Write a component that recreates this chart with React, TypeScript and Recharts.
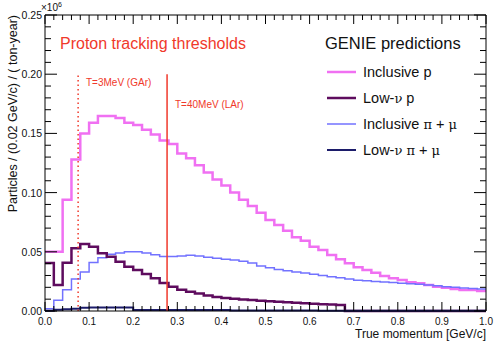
import React from 'react';
import { LineChart, Line, XAxis, YAxis, ReferenceLine } from 'recharts';

// 50 bins of 0.02 GeV/c from 0 to 1 (values in units of 10^6)
const binLowEdges: number[] = Array.from({ length: 50 }, (_, i) => i / 50);

const inclusiveP = [
  0.05, 0.05, 0.094, 0.128, 0.15, 0.159, 0.1647, 0.1647, 0.163, 0.159,
  0.157, 0.153, 0.149, 0.144, 0.141, 0.133, 0.129, 0.123, 0.117, 0.111,
  0.106, 0.1, 0.094, 0.0887, 0.083, 0.0769, 0.0726, 0.0678, 0.0622, 0.0594,
  0.0543, 0.0515, 0.0473, 0.0437, 0.0403, 0.0369, 0.0346, 0.0324, 0.0296, 0.0276,
  0.0262, 0.0242, 0.0234, 0.022, 0.0205, 0.0197, 0.0186, 0.0177, 0.0177, 0.0169,
];

const lowNuP = [
  0.0405, 0.022, 0.0408, 0.053, 0.0565, 0.0543, 0.0487, 0.0459, 0.0417, 0.0374,
  0.0346, 0.0313, 0.0276, 0.0237, 0.0205, 0.018, 0.0163, 0.0147, 0.013, 0.0119,
  0.011, 0.0103, 0.0097, 0.0092, 0.0087, 0.0082, 0.0078, 0.0074, 0.007, 0.0066,
  0.0062, 0.0058, 0.0054, 0.005, 0, 0, 0, 0, 0, 0,
  0, 0, 0, 0, 0, 0, 0, 0, 0, 0,
];

const inclusivePiMu = [
  0.002, 0.009, 0.018, 0.027, 0.033, 0.041, 0.045, 0.048, 0.049, 0.05,
  0.05, 0.049, 0.0475, 0.046, 0.046, 0.0465, 0.047, 0.0465, 0.0455, 0.0445,
  0.0437, 0.043, 0.042, 0.0405, 0.038, 0.0365, 0.035, 0.034, 0.033, 0.032,
  0.031, 0.03, 0.029, 0.028, 0.027, 0.026, 0.0256, 0.025, 0.0245, 0.024,
  0.0235, 0.023, 0.0225, 0.022, 0.0213, 0.0205, 0.02, 0.0195, 0.019, 0.0185,
];

const lowNuPiMu = [
  0.0003, 0.001, 0.0015, 0.002, 0.0028, 0.003, 0.003, 0.003, 0.003, 0.003,
  0.0009, 0.0008, 0.0008, 0.0008, 0.0008, 0.0008, 0.0008, 0.0008, 0.0008, 0.0008,
  0.0008, 0.0005, 0.0005, 0.0005, 0.0005, 0.0005, 0.0005, 0.0005, 0.0005, 0.0005,
  0.0005, 0.0003, 0.0003, 0.0003, 0.0003, 0.0003, 0.0003, 0.0003, 0.0003, 0.0003,
  0.0003, 0.0003, 0.0003, 0.0003, 0.0003, 0.0003, 0.0003, 0.0003, 0.0003, 0.0003,
];

const xTicks: number[] = Array.from({ length: 51 }, (_, i) => i / 50);
const yTicks: number[] = Array.from({ length: 26 }, (_, i) => i / 100);

// proton momentum thresholds [GeV/c] and line height
const thresholdGAr = 0.0751;
const thresholdLAr = 0.2768;
const thresholdTop = 0.2;

const seriesNames = ['Inclusive p', 'Low-\u03bd p', 'Inclusive \u03c0 + \u03bc', 'Low-\u03bd \u03c0 + \u03bc'];

const C_PINK = '#f070f2';
const C_PURPLE = '#5e0c5e';
const C_BLUE = '#7272ff';
const C_NAVY = '#1c1c6a';
const C_RED = '#f0392b';
const FONT = '"Liberation Sans", Arial, Helvetica, sans-serif';

const table = [
  ...binLowEdges.map((x, i) => ({
    x,
    incP: inclusiveP[i],
    lowP: lowNuP[i],
    incPi: inclusivePiMu[i],
    lowPi: lowNuPiMu[i],
  })),
  {
    x: 1,
    incP: inclusiveP[49],
    lowP: lowNuP[49],
    incPi: inclusivePiMu[49],
    lowPi: lowNuPiMu[49],
  },
];

const isMajorX = (v: number) => Math.round(v * 50) % 5 === 0;
const isMajorY = (v: number) => Math.round(v * 100) % 5 === 0;

const BottomTick = (props: any) => {
  const { x, y, payload } = props;
  const major = isMajorX(payload.value);
  return (
    <g>
      <line x1={x} y1={y} x2={x} y2={y - (major ? 9 : 5)} stroke="#000" strokeWidth={1} />
      {major && (
        <text x={x} y={y + 14} textAnchor="middle" fontSize={10} fontFamily={FONT} fill="#111">
          {payload.value.toFixed(1)}
        </text>
      )}
    </g>
  );
};

const TopTick = (props: any) => {
  const { x, y, payload } = props;
  const major = isMajorX(payload.value);
  return <line x1={x} y1={y} x2={x} y2={y + (major ? 9 : 5)} stroke="#000" strokeWidth={1} />;
};

const LeftTick = (props: any) => {
  const { x, y, payload } = props;
  const major = isMajorY(payload.value);
  return (
    <g>
      <line x1={x} y1={y} x2={x + (major ? 12 : 6)} y2={y} stroke="#000" strokeWidth={1} />
      {major && (
        <text x={x - 3} y={y} textAnchor="end" dominantBaseline="central" fontSize={10.5} fontFamily={FONT} fill="#111">
          {payload.value.toFixed(2)}
        </text>
      )}
    </g>
  );
};

const RightTick = (props: any) => {
  const { x, y, payload } = props;
  const major = isMajorY(payload.value);
  return <line x1={x} y1={y} x2={x - (major ? 12 : 6)} y2={y} stroke="#000" strokeWidth={1} />;
};

const greek = (s: string) => {
  const parts = s.split(/([\u03bd\u03c0\u03bc])/);
  return parts.map((p, i) =>
    /[\u03bd\u03c0\u03bc]/.test(p) ? (
      <tspan key={i} fontFamily='"DejaVu Serif", "Liberation Serif", serif' fontSize={13}>
        {p}
      </tspan>
    ) : (
      <tspan key={i}>{p}</tspan>
    )
  );
};

const axisLineStyle = { stroke: '#000', strokeWidth: 1 };

export default function App() {
  const legendColors = [C_PINK, C_PURPLE, C_BLUE, C_NAVY];
  const legendWidths = [2.5, 2.5, 1.5, 2];
  const legendY = [72, 98, 124, 150];
  return (
    <div style={{ position: 'absolute', left: 0, top: 0, width: 501, height: 345, background: '#fff' }}>
      <LineChart width={501} height={345} data={table} margin={{ top: 14, right: 14, bottom: 33, left: 44 }}>
        <XAxis
          xAxisId="bottom"
          dataKey="x"
          type="number"
          domain={[0, 1]}
          ticks={xTicks}
          interval={0}
          height={1}
          tickSize={0}
          tickMargin={0}
          tickLine={false}
          axisLine={axisLineStyle}
          tick={<BottomTick />}
        />
        <XAxis
          xAxisId="top"
          orientation="top"
          dataKey="x"
          type="number"
          domain={[0, 1]}
          ticks={xTicks}
          interval={0}
          height={1}
          tickSize={0}
          tickMargin={0}
          tickLine={false}
          axisLine={axisLineStyle}
          tick={<TopTick />}
        />
        <YAxis
          yAxisId="left"
          type="number"
          domain={[0, 0.25]}
          ticks={yTicks}
          interval={0}
          width={1}
          tickSize={0}
          tickMargin={0}
          tickLine={false}
          axisLine={axisLineStyle}
          tick={<LeftTick />}
        />
        <YAxis
          yAxisId="right"
          orientation="right"
          type="number"
          domain={[0, 0.25]}
          ticks={yTicks}
          interval={0}
          width={1}
          tickSize={0}
          tickMargin={0}
          tickLine={false}
          axisLine={axisLineStyle}
          tick={<RightTick />}
        />
        <Line xAxisId="bottom" yAxisId="left" type="stepAfter" dataKey="incP" stroke={C_PINK} strokeWidth={2.5} dot={false} isAnimationActive={false} />
        <Line xAxisId="bottom" yAxisId="left" type="stepAfter" dataKey="incPi" stroke={C_BLUE} strokeWidth={1.5} dot={false} isAnimationActive={false} />
        <Line xAxisId="bottom" yAxisId="left" type="stepAfter" dataKey="lowP" stroke={C_PURPLE} strokeWidth={2.5} dot={false} isAnimationActive={false} />
        <Line xAxisId="top" yAxisId="right" type="stepAfter" dataKey="lowPi" stroke={C_NAVY} strokeWidth={2} dot={false} isAnimationActive={false} />
        <ReferenceLine
          xAxisId="bottom"
          yAxisId="left"
          segment={[{ x: thresholdGAr, y: 0 }, { x: thresholdGAr, y: thresholdTop }]}
          stroke={C_RED}
          strokeWidth={1.5}
          strokeDasharray="1.5 3"
        />
        <ReferenceLine
          xAxisId="bottom"
          yAxisId="left"
          segment={[{ x: thresholdLAr, y: 0 }, { x: thresholdLAr, y: thresholdTop }]}
          stroke={C_RED}
          strokeWidth={1.5}
        />
      </LineChart>
      <svg width={501} height={345} style={{ position: 'absolute', left: 0, top: 0, pointerEvents: 'none' }}>
        <text fontFamily={FONT} fontSize={10} fill="#111" x={41} y={11}>
          ×10
          <tspan fontSize={7} dy={-4}>6</tspan>
        </text>
        <text
          fontFamily={FONT}
          fontSize={12.5}
          fill="#111"
          textAnchor="end"
          transform="translate(17,15) rotate(-90)"
        >
          Particles / (0.02 GeV/c) / ( ton-year)
        </text>
        <text fontFamily={FONT} fontSize={12} fill="#111" textAnchor="end" x={486} y={338}>
          True momentum [GeV/c]
        </text>
        <text fontFamily={FONT} fontSize={16} fill={C_RED} x={60} y={49}>
          Proton tracking thresholds
        </text>
        <text fontFamily={FONT} fontSize={10} fill={C_RED} x={86} y={86}>
          T=3MeV (GAr)
        </text>
        <text fontFamily={FONT} fontSize={10} fill={C_RED} x={175} y={108}>
          T=40MeV (LAr)
        </text>
        <text fontFamily={FONT} fontSize={16.5} fill="#111" x={325} y={49}>
          GENIE predictions
        </text>
        {seriesNames.map((name, i) => (
          <g key={name}>
            <line x1={327} x2={356} y1={legendY[i]} y2={legendY[i]} stroke={legendColors[i]} strokeWidth={legendWidths[i]} />
            <text fontFamily={FONT} fontSize={14.5} fill="#111" x={363} y={legendY[i]} dominantBaseline="central">
              {greek(name)}
            </text>
          </g>
        ))}
      </svg>
    </div>
  );
}
